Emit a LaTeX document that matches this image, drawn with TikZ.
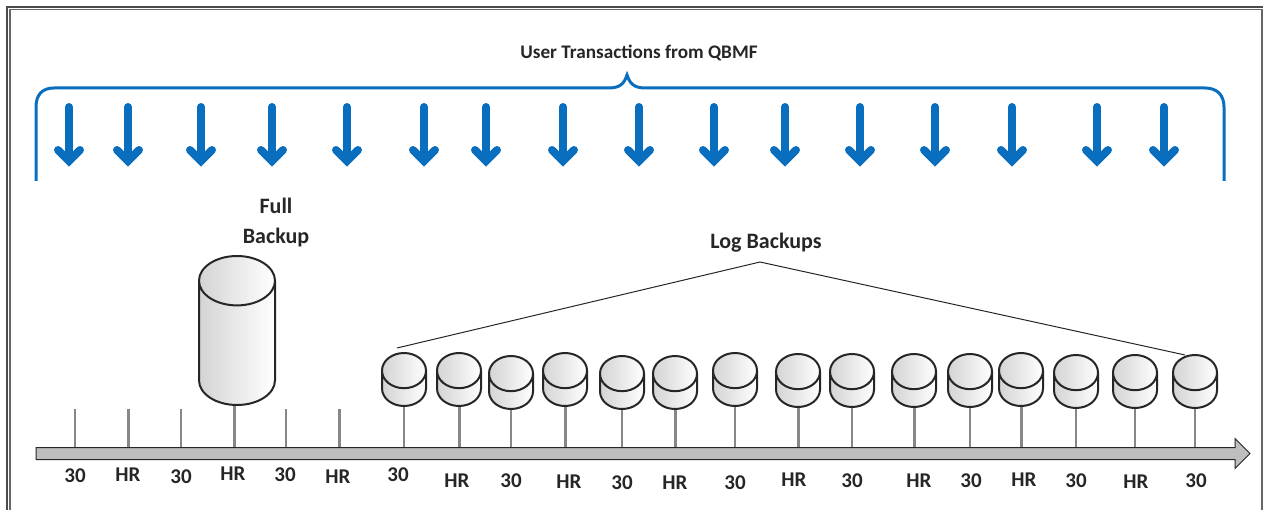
\documentclass[tikz,border=0pt]{standalone}
\usepackage{fontspec}
\setmainfont{Carlito}
\usetikzlibrary{shapes.geometric,shapes.arrows}
\definecolor{braceblue}{RGB}{10,110,190}
\definecolor{axisgray}{RGB}{190,190,190}
\definecolor{tickgray}{RGB}{135,135,135}
\begin{document}
\begin{tikzpicture}[x=1pt,y=-1pt]
\tikzstyle{label_style} = [font=\fontsize{21}{24}\selectfont\bfseries, text=black!85]
\tikzstyle{title_style} = [font=\fontsize{19.2}{24}\selectfont\bfseries, text=black!85]
\tikzstyle{name_style} = [font=\fontsize{22}{24}\selectfont\bfseries, text=black!85]
\tikzstyle{shaft_style} = [line width=8, braceblue, line cap=round]
\tikzstyle{head_style} = [line width=8, braceblue, line cap=round, miter limit=4]
\tikzstyle{db_style} = [cylinder, draw=black!85, shape border rotate=90, line width=2, left color=black!17, right color=white, anchor=south, inner ysep=0pt]
\tikzstyle{thin_tick} = [tickgray, line width=2]
\tikzstyle{thick_tick} = [tickgray, line width=3]
    \useasboundingbox (0,0) rectangle (1263,510);

    % frame
    \draw[black!60, line width=1.2] (10,510) -- (10,9.5) -- (1262,9.5) -- (1262,510);
    \draw[black!70, line width=1.2] (7,510) -- (7,7) -- (1263,7);

    % brace
    \coordinate (b1) at (36,181);
    \coordinate (b2) at (1224,181);
    \draw[braceblue, line width=3]
        (b1) -- (36,107) .. controls (36,95) and (42,88) .. (54,88)
        -- (608,88) .. controls (620,88) and (624,84) .. (627,75)
        .. controls (630,84) and (634,88) .. (646,88)
        -- (1205,88) .. controls (1217,88) and (1224,95) .. (1224,107) -- (b2);
    \node[title_style] (title) at (639,53) {User Transactions from QBMF};

    \foreach \x [count=\i] in {69,128,201,272,347,424,486,563,639,714,785,860,935,1012,1097,1164} {
        \coordinate (s\i) at (\x,107);
        \coordinate (e\i) at (\x,161);
        \coordinate (l\i) at (\x-11,150);
        \coordinate (r\i) at (\x+11,150);
        \draw[shaft_style] (s\i) -- (e\i);
        \draw[head_style] (l\i) -- (e\i) -- (r\i);
    }

    % timeline
    \node[single arrow, draw=black!85, fill=axisgray, line width=1, minimum height=1214, inner xsep=0pt, inner ysep=5.5pt,
        single arrow head extend=9, single arrow tip angle=90] (axis) at (640,453.5) {};

    % ticks without a backup
    \foreach \x/\s [count=\i] in {75/thin_tick,128/thick_tick,181/thin_tick,286/thin_tick,339/thick_tick} {
        \coordinate (t\i) at (\x,409);
        \draw[\s] (t\i) -- (t\i |- axis.before head);
    }

    % full backup
    \node[db_style, inner xsep=38pt, minimum height=149, shape aspect=0.65] (full) at (237,406) {};
    \coordinate (f1) at (234,406);
    \draw[thick_tick] (f1) -- (f1 |- axis.before head);
    \node[name_style, align=center] (fulltext) at (276,223) {Full\\[6pt]Backup};

    % log backups
    \foreach \x/\y/\s [count=\i] in {
        404/407/thin_tick,459/407/thick_tick,511/410/thin_tick,565/407/thick_tick,622/410/thin_tick,
        675/410/thick_tick,735/407/thin_tick,798/408/thick_tick,852/408/thin_tick,914/408/thick_tick,
        970/408/thin_tick,1021/407/thick_tick,1076/409/thin_tick,1135/409/thin_tick,1195/409/thin_tick} {
        \node[db_style, inner xsep=22pt, minimum height=53, shape aspect=0.8] (log\i) at (\x,\y) {};
        \draw[\s] (log\i.south) -- (log\i.south |- axis.before head);
    }
    \node[name_style] (logtext) at (766,243) {Log Backups};
    \coordinate (apex) at (760,262);
    \coordinate (left) at (397,348);
    \coordinate (right) at (1185,355);
    \draw[black!85, line width=1] (left) -- (apex) -- (right);

    % hour labels
    \foreach \x/\y/\t [count=\i] in {
        75/476/30,128/475/HR,181/477/30,233/474/HR,285/475/30,338/477/HR,398/475/30,
        457/481/HR,511/481/30,569/482/HR,622/483/30,675/483/HR,735/483/30,794/480/HR,
        852/481/30,919/481/HR,971/481/30,1024/480/HR,1076/481/30,1136/482/HR,1196/481/30} {
        \node[label_style] (h\i) at (\x,\y) {\t};
    }
\end{tikzpicture}
\end{document}
